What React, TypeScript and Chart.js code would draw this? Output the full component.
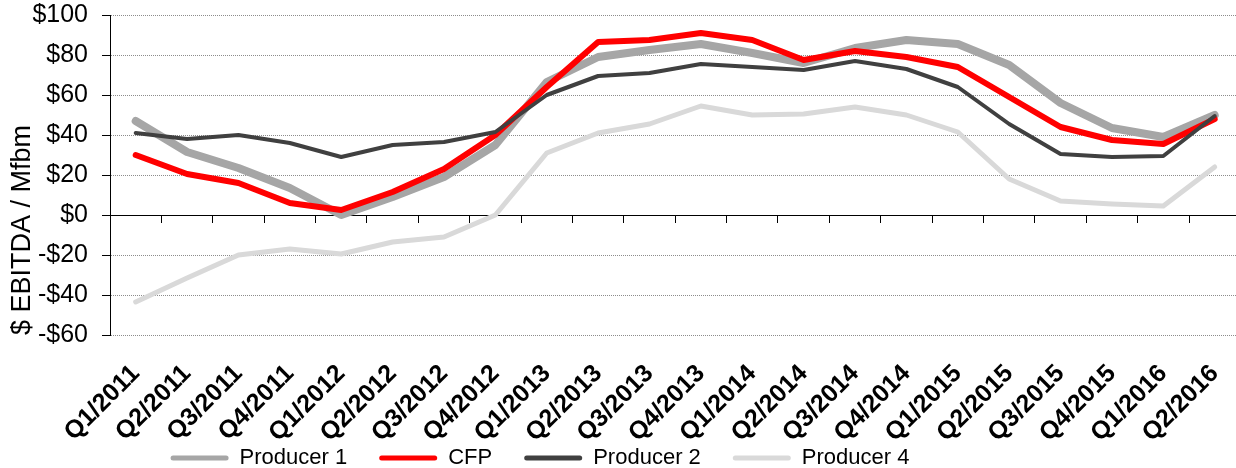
import { useEffect, useRef } from "react";
import { Chart, registerables } from "chart.js";

Chart.register(...registerables);

// Quarterly EBITDA margins per thousand board feet
const quarters = [
  "Q1/2011", "Q2/2011", "Q3/2011", "Q4/2011",
  "Q1/2012", "Q2/2012", "Q3/2012", "Q4/2012",
  "Q1/2013", "Q2/2013", "Q3/2013", "Q4/2013",
  "Q1/2014", "Q2/2014", "Q3/2014", "Q4/2014",
  "Q1/2015", "Q2/2015", "Q3/2015", "Q4/2015",
  "Q1/2016", "Q2/2016",
];

const producer1 = [47, 31.5, 23.5, 13.5, 0, 9, 19, 35, 66.5, 79, 82.5, 85.5, 81, 76, 83.5, 87.5, 85.5, 75, 56, 43.5, 39, 50];
const cfp = [30, 20.5, 16, 6, 2.5, 11.5, 23, 40, 64, 86.5, 87.5, 91, 87.5, 77.5, 82, 79, 74, 59, 44, 37.5, 35.5, 48];
const producer2 = [41, 38, 40, 36, 29, 35, 36.5, 41.5, 60, 69.5, 71, 75.5, 74, 72.5, 77, 73, 64, 45.5, 30.5, 29, 29.5, 49.5];
const producer4 = [-43.5, -31.5, -20, -17, -19.5, -13.5, -11, 0, 31, 41, 45.5, 54.5, 50, 50.5, 54, 50, 41.5, 18, 7, 5.5, 4.5, 24];

const yMin = -60;
const yMax = 100;
const yStep = 20;

const FONT = "'Liberation Sans', Arial, Helvetica, sans-serif";

// Nudges the legend row after the layout pass
const legendOffset = {
  id: "legendOffset",
  afterLayout(chart: any, _args: any, opts: any) {
    const lg = chart.legend;
    if (!lg || !opts) return;
    const dx = opts.dx || 0;
    const dy = opts.dy || 0;
    lg.left += dx;
    lg.right += dx;
    lg.top += dy;
    lg.bottom += dy;
  },
};

export default function App() {
  const canvasRef = useRef<HTMLCanvasElement | null>(null);

  useEffect(() => {
    const canvas = canvasRef.current;
    if (!canvas) return;

    const line = (label: string, data: number[], color: string, width: number, order: number) => ({
      label,
      data,
      borderColor: color,
      backgroundColor: color,
      borderWidth: width,
      pointRadius: 0,
      pointHoverRadius: 0,
      tension: 0,
      fill: false,
      borderJoinStyle: "round" as const,
      borderCapStyle: "round" as const,
      order,
    });

    const chart = new Chart(canvas, {
      type: "line",
      data: {
        labels: quarters,
        datasets: [
          line("Producer 1", producer1, "#a6a6a6", 8, 2),
          line("CFP", cfp, "#ff0000", 6, 1),
          line("Producer 2", producer2, "#404040", 4, 0),
          line("Producer 4", producer4, "#d9d9d9", 5, 3),
        ],
      },
      options: {
        responsive: false,
        animation: false,
        devicePixelRatio: 1,
        layout: { padding: { left: 0, right: 4, top: 0, bottom: 0 } },
        scales: {
          x: {
            type: "category",
            position: "bottom",
            offset: true,
            grid: { display: false },
            border: { display: false },
            ticks: {
              autoSkip: false,
              maxRotation: 45,
              minRotation: 45,
              padding: 16,
              color: "#000",
              font: { family: FONT, size: 25, weight: "bold" },
            },
            afterFit: (s: any) => {
              s.height = 110;
            },
          },
          x0: {
            type: "category",
            position: { y: 0 },
            offset: true,
            ticks: { display: false },
            grid: {
              offset: true,
              drawOnChartArea: false,
              drawTicks: true,
              tickLength: 7,
              tickColor: "#000",
              tickWidth: 1,
            },
            border: { display: true, color: "#000", width: 1 },
          },
          y: {
            type: "linear",
            min: yMin,
            max: yMax,
            ticks: {
              stepSize: yStep,
              padding: 14,
              color: "#000",
              font: { family: FONT, size: 25 },
              callback: (v: any) => (Number(v) < 0 ? "-$" : "$") + Math.abs(Number(v)),
            },
            grid: {
              color: (ctx: any) => (ctx.tick && ctx.tick.value === 0 ? "#000" : "#8c8c8c"),
              lineWidth: 1,
              tickLength: 8,
              tickColor: "#000",
              tickBorderDash: [],
            },
            border: {
              display: true,
              color: "#000",
              width: 1,
              dash: (ctx: any) => (ctx.tick && ctx.tick.value === 0 ? [] : [1, 1]),
            },
            title: {
              display: true,
              text: "$ EBITDA / Mfbm",
              align: "start",
              color: "#000",
              font: { family: FONT, size: 27 },
              padding: { top: 6, bottom: 0 },
            },
            afterFit: (s: any) => {
              s.width = 110;
              s.paddingTop = 15;
              s.paddingBottom = 0;
            },
          },
        },
        plugins: {
          tooltip: { enabled: false },
          legendOffset: { dx: -84, dy: -30 },
          legend: {
            position: "bottom",
            align: "center",
            labels: {
              color: "#000",
              font: { family: FONT, size: 22 },
              boxWidth: 58,
              boxHeight: 5,
              padding: 32,
              sort: (a: any, b: any) => a.datasetIndex - b.datasetIndex,
              generateLabels: (c: any) =>
                Chart.defaults.plugins.legend.labels.generateLabels(c).map((it: any) => ({
                  ...it,
                  fillStyle: it.strokeStyle,
                  lineWidth: 0,
                  borderRadius: 2.5,
                })),
            },
          },
        } as any,
      },
      plugins: [legendOffset],
    } as any);

    return () => chart.destroy();
  }, []);

  return (
    <div
      style={{
        position: "absolute",
        left: 0,
        top: 0,
        width: 1236,
        height: 468,
        overflow: "hidden",
        background: "#fff",
      }}
    >
      <canvas ref={canvasRef} width={1252} height={509} style={{ width: 1252, height: 509, display: "block" }} />
    </div>
  );
}
